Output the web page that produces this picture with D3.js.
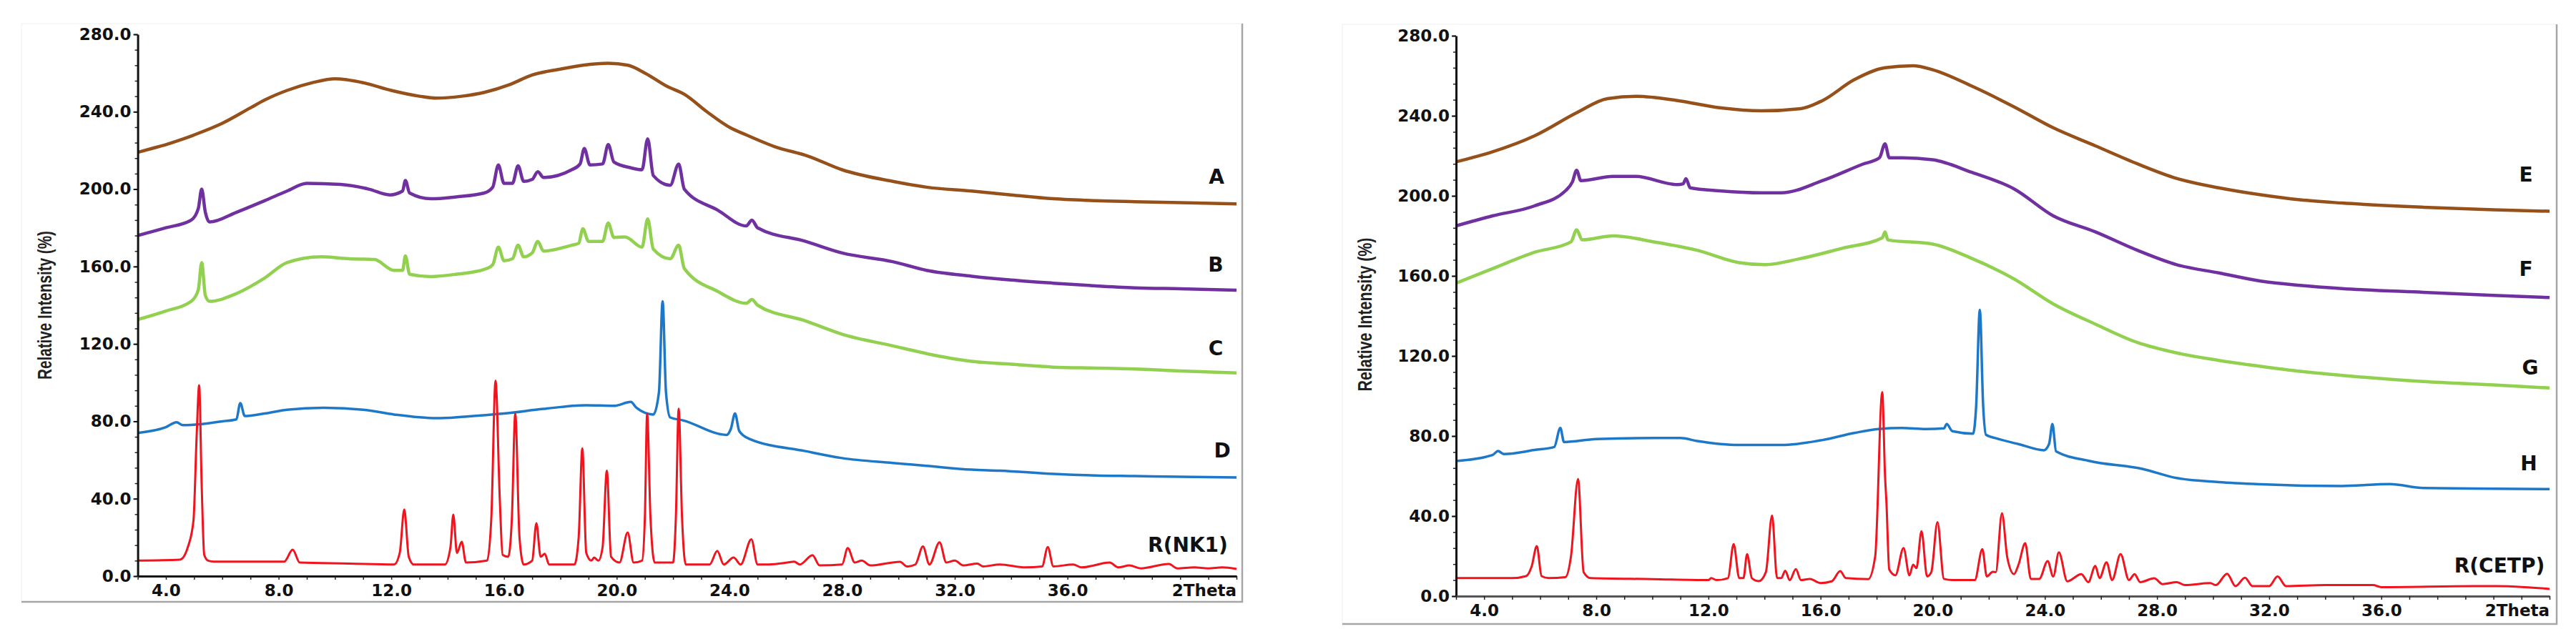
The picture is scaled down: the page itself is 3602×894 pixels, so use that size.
<!DOCTYPE html>
<html>
<head>
<meta charset="utf-8">
<script src="https://cdn.jsdelivr.net/npm/d3@7"></script>
<style>
  body { margin: 0; background: #fff; }
  svg { display: block; }
  .tick text { font-family: "DejaVu Sans", Verdana, sans-serif; font-weight: bold; font-size: 23px; fill: #111; }
</style>
</head>
<body>
<svg id="chart" width="3602" height="894"></svg>
<script>
// ---- data (2Theta, relative intensity) ----
const xTicks = [4, 8, 12, 16, 20, 24, 28, 32, 36];
const yTicks = [0, 40, 80, 120, 160, 200, 240, 280];

const labelsNK1 = ["A", "B", "C", "D", "R(NK1)"];
const labelsCETP = ["E", "F", "G", "H", "R(CETP)"];

const seriesA = [[3,219],[3.5,221],[4,223],[5,228],[6,234],[7,242],[7.5,246],[8.3,251],[9.2,255],[10,257],[11,255],
  [12,251],[13,248],[13.6,247],[14.5,248],[15.3,250],[16.2,254],[17,259],[18,262],[18.8,264],[19.7,265],[20.4,264],
  [21,260],[21.8,253],[22.4,249],[23.2,240],[24,232],[24.6,228],[25.6,222],[26.8,217],[28,210],[29.8,204],[31,201],
  [32.6,199],[34,197],[35.5,195],[37,194],[38.4,193.5],[40,193],[42,192.4]];

const seriesB = [[3,176],[4,180],[4.9,184],[5.15,190],[5.27,200],[5.4,188],[5.55,183],[6.5,188],[7.5,194],[8.3,199],
  [9,203],[10.2,202.4],[11.2,200],[11.95,197],[12.4,199],[12.5,204.5],[12.65,198],[13.4,195],[14.3,196],[15.3,198],
  [15.6,201],[15.8,212.5],[16,203],[16.3,203],[16.5,212],[16.7,204],[17,205],[17.2,209],[17.4,206],[18.4,210],
  [18.7,213],[18.85,221],[19.05,212.5],[19.5,213],[19.7,223],[19.9,214],[20.5,211],[20.9,210],[21.1,226],[21.3,207],
  [21.9,202],[22.2,213],[22.4,200],[23.6,189],[24.6,181],[24.8,184],[25,180],[26.7,173],[28,167],[29.8,162.5],
  [31,158],[32.6,155],[34,153],[35.5,151.4],[37,150],[38.4,149],[40,148.5],[42,147.8]];

const seriesC = [[3,132.6],[4,137],[4.9,142],[5.15,148],[5.27,162],[5.4,145],[5.55,142],[6.5,146],[7.5,154],[8.3,162],
  [9.5,165],[10.5,164],[11.4,163.6],[12.1,158],[12.4,158],[12.5,165.5],[12.65,156],[13.4,154.8],[14.3,156],[15.3,158.5],
  [15.6,161],[15.8,170],[16,163],[16.3,164],[16.5,171],[16.7,165],[17,167],[17.2,173],[17.4,168],[18.4,171],
  [18.65,172],[18.8,179.5],[19,173],[19.5,173],[19.7,182.5],[19.9,175],[20.3,175.3],[20.9,170],[21.1,184.6],
  [21.3,169],[21.9,164],[22.2,171],[22.4,159],[23.6,147],[24.6,141],[24.8,143],[25,140],[26.7,131.9],[28,125],
  [29.8,119],[31,115],[32.6,111],[34,109.5],[35.5,108],[37,107.5],[38.4,107],[40,106],[42,105]];

const seriesD = [[3,74],[4,77],[4.38,79.5],[4.6,78],[5.24,78.5],[6,80],[6.5,81],[6.64,89.4],[6.8,82.7],[7.5,84],
  [8.3,86],[9.6,87],[11,86],[12.1,83.5],[13.6,81.6],[14.6,82.4],[16,84],[17.4,86.4],[18.9,88.3],[19.9,88],[20.5,90],
  [20.7,87],[21.3,83.5],[21.5,95],[21.63,142],[21.75,95],[21.9,82],[22.35,80.5],[23.9,73],[24.05,76],[24.2,84],
  [24.35,75],[24.7,71],[26.7,64.6],[28,61],[29.8,58.5],[31,57],[32.6,55],[33.6,54.5],[35.5,52.8],[37,52],
  [38.4,51.7],[40,51.3],[42,51]];

const seriesRNK1 = [[3,8],[4.5,8.5],[4.79,15.5],[4.98,29],[5.09,72],[5.18,98.6],[5.27,47],[5.36,11],[5.5,8],[5.7,7.5],
  [8.2,7.5],[8.5,13.7],[8.75,7],[10.5,6.5],[12.1,6],[12.3,12],[12.46,34.4],[12.62,10],[12.8,6],[13.9,6],[14.1,15],
  [14.2,31.8],[14.33,12],[14.5,17.7],[14.65,7],[15.4,8],[15.55,30],[15.7,101],[15.85,40],[15.95,11],[16.15,10],
  [16.28,30],[16.4,84],[16.55,20],[16.7,6],[17,8],[17.15,27.3],[17.3,10],[17.45,11.5],[17.6,6],[18.5,6],[18.65,20],
  [18.78,66],[18.92,12],[19.1,8],[19.2,9.6],[19.35,8],[19.5,15],[19.65,54.5],[19.8,10],[20.1,7],[20.39,22.5],
  [20.6,7],[20.9,8],[21,30],[21.08,84],[21.2,30],[21.35,7],[22,7],[22.1,30],[22.2,86.5],[22.32,30],[22.45,6],
  [23.3,6],[23.57,13],[23.8,6],[24.15,9.6],[24.4,6],[24.78,19],[25,6],[25.4,6],[26.06,7],[26.3,7.5],[26.5,6],
  [26.95,10.8],[27.2,5.5],[28,6],[28.2,14.5],[28.45,7],[28.7,8],[29,5.5],[30.06,7.4],[30.3,5],[30.6,6],[30.87,15.3],
  [31.1,6],[31.46,17.5],[31.7,7],[32,8],[32.3,5.5],[32.8,6.5],[33,5],[33.6,6],[34.5,4.5],[35.1,5],[35.3,15],
  [35.5,5],[36.2,6],[36.5,4.5],[37.5,7],[37.8,4.5],[38.2,5.5],[38.6,4],[39.6,6.3],[39.9,4],[40.5,4.5],[41,4],
  [41.5,4.5],[42,3.7]];

const seriesE = [[3,217],[4.3,222],[5.8,230],[7.3,241.5],[8.4,248.6],[9.45,249.7],[10.9,247.6],[12.4,244],[13.9,242.5],
  [15.3,243.6],[16.07,247.6],[17.2,258],[18.3,264],[19.3,265],[20,263],[21.4,254.8],[22.9,244.5],[24.3,234],
  [25.8,225],[27.3,216],[28.7,208.7],[30.2,204],[31.7,200.5],[33.1,198],[34.6,196.4],[37.5,194.3],[40,193],[42,192.3]];

const seriesF = [[3,185],[4.3,190],[5.8,195],[6.9,202.5],[7.15,207],[7.3,212.8],[7.45,207.6],[8.6,209.7],[9.4,209.7],
  [10.9,205.6],[11.1,206],[11.2,208.6],[11.35,204],[12.4,202.5],[13.9,201.5],[14.6,201.5],[16.07,207.6],[17.5,215.8],
  [18.1,219],[18.3,226],[18.45,219],[18.9,219],[20,218],[21.4,211.7],[22.9,203.5],[24.3,190],[25.8,182],[27.3,172.8],
  [28.7,165.6],[30.2,161.5],[31.7,157.4],[33.1,155.3],[34.6,153.7],[37.5,151.8],[40,150.3],[42,149.2]];

const seriesG = [[3,156.4],[4.3,163.6],[5.8,171.8],[7.1,177],[7.3,183],[7.5,178],[8.6,180],[10.1,176.9],[11.6,172.8],
  [13.1,166.6],[14,165.6],[15.3,168.7],[16.8,173.9],[18.2,179],[18.3,182],[18.4,178],[20,175.9],[21.4,168.7],
  [22.9,158.5],[24.3,146],[25.8,135.9],[27.3,126.7],[28.7,121.5],[30.2,117.8],[31.7,114.8],[33.1,112.3],
  [34.6,110.3],[37.5,107.2],[40,105.5],[42,104]];

const seriesH = [[3,67.5],[4.3,70.5],[4.5,72.5],[4.7,71],[5.8,73],[6.5,74.5],[6.72,84],[6.85,77],[8,78.5],[10.1,79],
  [11,79],[11.6,77.5],[13.1,75.5],[14.6,75.5],[16.07,78],[17.2,81.5],[18.07,83.5],[18.9,84],[19.75,83.5],[20.4,83.8],
  [20.5,86],[20.7,82.4],[21.44,81.2],[21.55,95],[21.68,143],[21.8,95],[21.9,80.6],[22.28,78.8],[23.1,75.8],
  [23.97,72.9],[24.15,76],[24.27,86],[24.4,72.3],[25.6,67.5],[27.5,63.5],[28.7,59],[30.2,57],[31.7,55.9],[34.6,55],
  [36.3,56],[37.5,54],[40,53.7],[42,53.5]];

const seriesRCETP = [[3,9],[5,9],[5.5,10],[5.7,15],[5.88,25],[6.05,10],[6.3,9],[6.9,9.5],[7.1,20],[7.35,58.5],[7.55,12],
  [7.8,9],[10,8.5],[12,8],[12.1,9],[12.3,8],[12.7,9],[12.9,26],[13.1,9],[13.25,9],[13.38,21],[13.55,9],[13.8,7.5],
  [14.05,12],[14.27,40.3],[14.45,9],[14.6,9],[14.74,12.7],[14.9,8],[15.12,13.5],[15.3,8],[15.62,8.6],[16,6.5],
  [16.4,7.4],[16.7,12.5],[16.9,9],[17.7,8.5],[17.95,20],[18.2,102],[18.3,60],[18.35,46.8],[18.45,13.3],[18.67,10.4],
  [18.96,24],[19.17,10.4],[19.3,15.7],[19.42,14],[19.6,32.4],[19.8,9.8],[19.95,12],[20.17,37],[20.4,8.6],[20.7,8],
  [21.5,8],[21.77,23.5],[21.93,9.8],[22.14,12.1],[22.25,12],[22.47,41.4],[22.66,19.3],[22.9,11],[23.06,15.7],
  [23.3,26.4],[23.5,8.6],[23.8,8.6],[24.1,17.5],[24.3,9.8],[24.5,21.9],[24.8,7.4],[25.3,11],[25.55,7],[25.8,15.1],
  [25.95,9],[26.2,16.9],[26.4,8],[26.7,21],[27,8],[27.2,11],[27.4,7],[27.9,8.9],[28.2,6],[28.7,7],[29,5.5],
  [29.9,6.5],[30.1,5.5],[30.5,11.2],[30.8,5],[31.14,9.2],[31.4,5],[32,5],[32.3,9.8],[32.6,5],[34,5.5],[35.7,5.5],
  [36,4.5],[39.3,5],[40.1,5],[41.1,4.5],[42,3.6]];

const colors = ["#96501a", "#7030a0", "#92d050", "#1e78c8", "#f0141e"];
const widths = [4.5, 4.5, 4.5, 3.5, 3];

const svg = d3.select("#chart");
svg.append("rect").attr("width", 3602).attr("height", 894).attr("fill", "#fff");

function drawPanel(p) {
  const x = d3.scaleLinear().domain([3, 42]).range(p.xr);
  const y = d3.scaleLinear().domain([0, 280]).range(p.yr);
  const g = svg.append("g");

  // frame (only the bottom and right edges show)
  g.append("rect")
    .attr("x", p.frame[0]).attr("y", p.frame[1])
    .attr("width", p.frame[2] - p.frame[0]).attr("height", p.frame[3] - p.frame[1])
    .attr("fill", "none").attr("stroke", "#f0f0f0").attr("stroke-width", 1);
  g.append("path")
    .attr("d", `M${p.frame[0]},${p.frame[3]}H${p.frame[2]}V${p.frame[1]}`)
    .attr("fill", "none").attr("stroke", "#a6a6a6").attr("stroke-width", 2.5);

  // curves
  const line = d3.line().x(d => x(d[0])).y(d => y(d[1])).curve(d3.curveMonotoneX);
  p.series.forEach((s, i) => {
    g.append("path")
      .datum(s)
      .attr("fill", "none")
      .attr("stroke", colors[i])
      .attr("stroke-width", widths[i])
      .attr("stroke-linejoin", "round")
      .attr("d", line);
  });

  // y axis
  const yMinor = g.append("g").attr("transform", `translate(${p.xr[0]},0)`)
    .call(d3.axisLeft(y).tickValues(d3.range(0, 281, 8)).tickSize(4).tickSizeOuter(0).tickFormat(""));
  yMinor.select(".domain").remove();
  yMinor.selectAll("line").attr("stroke", "#222").attr("stroke-width", 1.5);
  const yAx = g.append("g").attr("transform", `translate(${p.xr[0]},0)`)
    .call(d3.axisLeft(y).tickValues(yTicks).tickSize(6).tickSizeOuter(0).tickPadding(3).tickFormat(d3.format(".1f")));
  yAx.select(".domain").attr("stroke", "#111").attr("stroke-width", 3);
  yAx.selectAll("line").attr("stroke", "#111").attr("stroke-width", 2);

  // x axis
  const xAx = g.append("g").attr("transform", `translate(0,${p.yr[0]})`)
    .call(d3.axisBottom(x).tickValues(d3.range(3, 43, 1)).tickSize(5).tickSizeOuter(0).tickPadding(7)
      .tickFormat(d => xTicks.includes(d) ? d3.format(".1f")(d) : ""));
  xAx.select(".domain").attr("stroke", p.axisColor).attr("stroke-width", 3);
  xAx.selectAll("line").attr("stroke", "#222").attr("stroke-width", 1.5);

  g.append("text")
    .attr("x", p.xr[1]).attr("y", p.yr[0] + 7 + 5)
    .attr("dy", "0.71em")
    .attr("text-anchor", "end")
    .style("font-family", "'DejaVu Sans', Verdana, sans-serif")
    .style("font-weight", "bold").style("font-size", "23px").attr("fill", "#111")
    .text("2Theta");

  // y label
  g.append("text")
    .attr("transform", `translate(${p.ylab[0]},${p.ylab[1]}) rotate(-90)`)
    .attr("text-anchor", "middle").attr("dominant-baseline", "central")
    .attr("textLength", p.ylab[2]).attr("lengthAdjust", "spacingAndGlyphs")
    .style("font-family", "'Liberation Sans Narrow', 'Arial Narrow', 'Liberation Sans', sans-serif")
    .style("font-weight", "bold").style("font-size", "27px").attr("fill", "#222")
    .text("Relative Intensity (%)");

  // series labels
  p.labels.forEach((t, i) => {
    g.append("text")
      .attr("x", p.labelPos[i][0]).attr("y", p.labelPos[i][1])
      .attr("text-anchor", "middle").attr("dominant-baseline", "central")
      .style("font-family", "'DejaVu Sans', Verdana, sans-serif")
      .style("font-weight", "bold").style("font-size", "28px").attr("fill", "#111")
      .text(t);
  });
}

drawPanel({
  xr: [192.6, 1729], yr: [806, 48],
  frame: [30, 33, 1737, 842],
  axisColor: "#111",
  series: [seriesA, seriesB, seriesC, seriesD, seriesRNK1],
  labels: labelsNK1,
  labelPos: [[1701, 247], [1700, 370], [1700, 487], [1709, 630], [1661, 762]],
  ylab: [63, 427, 208]
});

drawPanel({
  xr: [2036, 3565], yr: [834, 50],
  frame: [1877, 34, 3575, 873],
  axisColor: "#555",
  series: [seriesE, seriesF, seriesG, seriesH, seriesRCETP],
  labels: labelsCETP,
  labelPos: [[3532, 244], [3532, 376], [3538, 514], [3536, 648], [3495, 791]],
  ylab: [1909, 440, 215]
});
</script>
</body>
</html>
